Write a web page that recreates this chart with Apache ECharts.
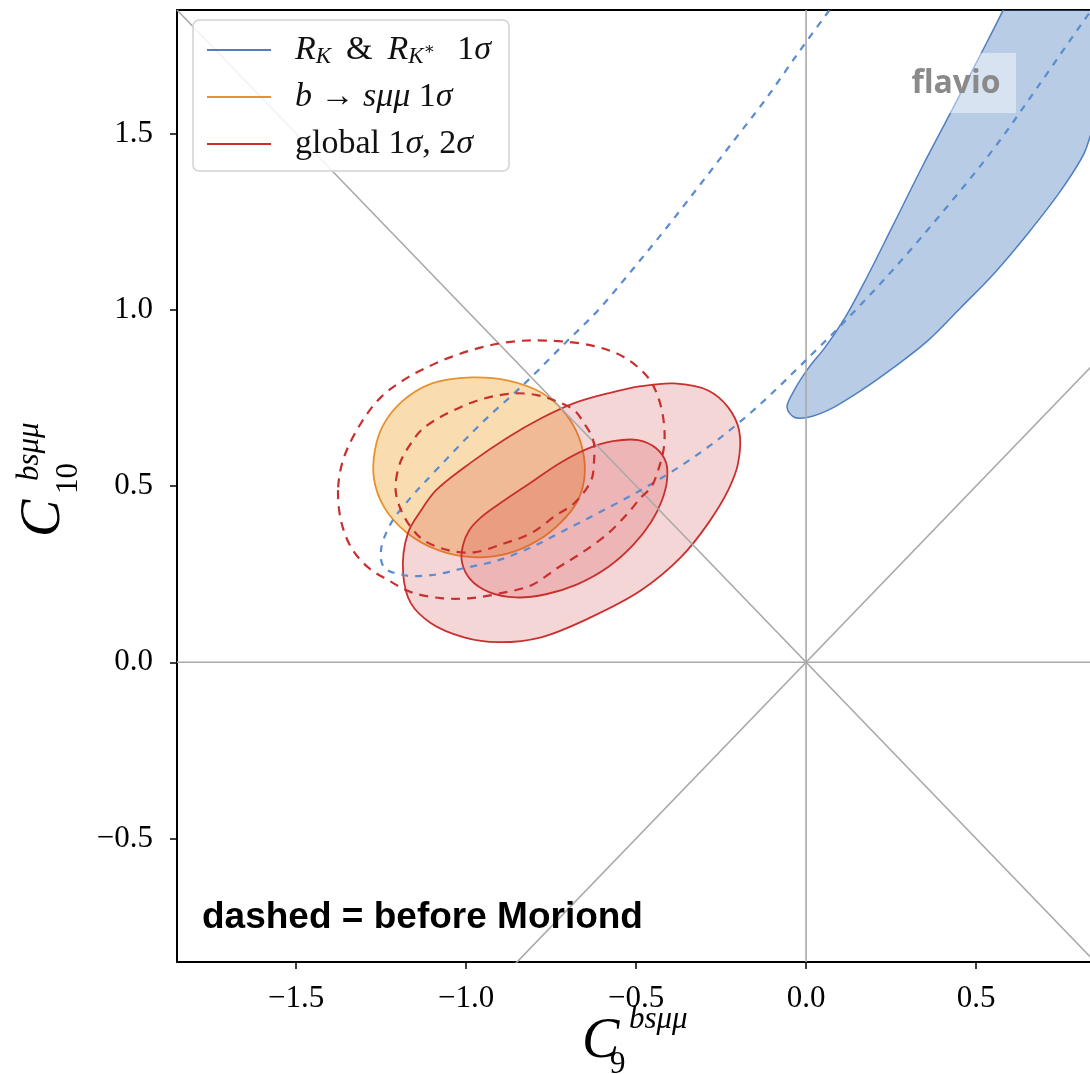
<!DOCTYPE html>
<html><head><meta charset="utf-8">
<script src="https://cdn.jsdelivr.net/npm/echarts@6/dist/echarts.min.js"></script>
<style>html,body{margin:0;padding:0;background:#fff}#c{width:1090px;height:1074px}</style>
</head><body><div id="c"></div>
<script>
// ---- axes ----
const xRange = [-1.85, 0.835];
const yRange = [-0.85, 1.85];
const xTicks = [-1.5, -1.0, -0.5, 0.0, 0.5];
const yTicks = [-0.5, 0.0, 0.5, 1.0, 1.5];
const seriesNames = ['R_K & R_K* 1σ', 'b → sμμ 1σ', 'global 1σ, 2σ'];

// ---- reference lines through origin ----
const lineH = [[-1.85, 0], [0.9, 0]];
const lineV = [[0, -0.85], [0, 1.85]];
const lineDiagDown = [[-1.85, 1.85], [0.9, -0.9]];
const lineDiagUp = [[-0.9, -0.9], [0.9, 0.9]];

// ---- contours (C9, C10) ----
const rkNew = [[0.591,1.877],[0.579,1.849],[0.509,1.716],[0.424,1.557],[0.341,1.404],[0.253,1.234],[0.179,1.092],[0.115,0.978],[0.056,0.893],[0.009,0.837],[-0.035,0.771],[-0.056,0.723],[-0.035,0.695],[0.006,0.695],[0.065,0.715],[0.162,0.771],[0.259,0.837],[0.359,0.913],[0.456,1.007],[0.553,1.103],[0.653,1.217],[0.75,1.339],[0.818,1.444],[0.838,1.5],[0.868,1.594],[0.897,1.877]];
const rkOld = [[0.068,1.849],[0.053,1.829],[-0.024,1.727],[-0.121,1.594],[-0.212,1.48],[-0.309,1.358],[-0.409,1.234],[-0.512,1.112],[-0.612,0.998],[-0.709,0.905],[-0.809,0.808],[-0.865,0.757],[-0.924,0.706],[-0.985,0.649],[-1.053,0.581],[-1.124,0.508],[-1.162,0.468],[-1.221,0.394],[-1.25,0.318],[-1.241,0.269],[-1.182,0.247],[-1.103,0.247],[-1.006,0.267],[-0.906,0.289],[-0.809,0.326],[-0.721,0.369],[-0.624,0.417],[-0.524,0.468],[-0.456,0.505],[-0.388,0.545],[-0.309,0.596],[-0.235,0.65],[-0.171,0.701],[-0.109,0.755],[-0.015,0.843],[0.112,0.965],[0.259,1.117],[0.406,1.282],[0.553,1.458],[0.682,1.633],[0.818,1.821],[0.844,1.855]];
const bsmmNew = [[-0.985,0.808],[-0.876,0.799],[-0.779,0.765],[-0.715,0.714],[-0.674,0.652],[-0.653,0.581],[-0.653,0.516],[-0.674,0.454],[-0.721,0.397],[-0.788,0.346],[-0.876,0.309],[-0.979,0.298],[-1.082,0.318],[-1.176,0.369],[-1.241,0.44],[-1.271,0.522],[-1.268,0.601],[-1.244,0.672],[-1.188,0.74],[-1.1,0.791]];
const global2New = [[-1.132,0.431],[-1.088,0.488],[-0.985,0.567],[-0.882,0.635],[-0.779,0.692],[-0.682,0.735],[-0.582,0.763],[-0.485,0.783],[-0.388,0.791],[-0.288,0.771],[-0.229,0.723],[-0.197,0.658],[-0.2,0.564],[-0.229,0.488],[-0.288,0.394],[-0.368,0.298],[-0.485,0.204],[-0.632,0.128],[-0.779,0.071],[-0.906,0.057],[-1.006,0.071],[-1.103,0.111],[-1.162,0.167],[-1.185,0.252],[-1.171,0.366]];
const global1New = [[-1.009,0.332],[-0.991,0.374],[-0.956,0.411],[-0.888,0.459],[-0.809,0.51],[-0.726,0.564],[-0.647,0.604],[-0.568,0.627],[-0.494,0.63],[-0.441,0.607],[-0.412,0.567],[-0.409,0.516],[-0.424,0.459],[-0.456,0.397],[-0.509,0.332],[-0.582,0.27],[-0.673,0.221],[-0.765,0.193],[-0.853,0.184],[-0.932,0.199],[-0.988,0.236],[-1.012,0.284]];
const global2Old = [[-1.376,0.496],[-1.359,0.581],[-1.309,0.678],[-1.25,0.752],[-1.171,0.808],[-1.082,0.851],[-0.985,0.885],[-0.897,0.905],[-0.8,0.913],[-0.632,0.899],[-0.535,0.865],[-0.465,0.808],[-0.435,0.752],[-0.418,0.678],[-0.418,0.61],[-0.435,0.545],[-0.456,0.496],[-0.485,0.468],[-0.524,0.423],[-0.582,0.366],[-0.662,0.309],[-0.729,0.269],[-0.809,0.218],[-0.897,0.196],[-0.985,0.182],[-1.074,0.182],[-1.162,0.199],[-1.229,0.233],[-1.288,0.269],[-1.338,0.326],[-1.368,0.403]];
const global1Old = [[-1.206,0.516],[-1.191,0.573],[-1.162,0.621],[-1.132,0.658],[-1.082,0.692],[-1.024,0.72],[-0.965,0.743],[-0.906,0.757],[-0.847,0.763],[-0.788,0.757],[-0.741,0.743],[-0.682,0.715],[-0.653,0.678],[-0.626,0.63],[-0.624,0.564],[-0.632,0.516],[-0.682,0.451],[-0.735,0.417],[-0.809,0.366],[-0.888,0.337],[-0.976,0.312],[-1.053,0.318],[-1.124,0.346],[-1.162,0.383],[-1.191,0.431],[-1.206,0.479]];

const BLUE = '#4f7fc0', BLUE_D = '#5a8ccf', ORANGE = '#e8912d', RED = '#c8302f';

// smooth path through the projected contour points (centripetal Catmull-Rom as cubic Beziers)
function smoothPath(P, closed) {
  const n = P.length;
  const get = function (i) { return closed ? P[(i + n) % n] : P[Math.max(0, Math.min(n - 1, i))]; };
  const dist = function (a, b) { return Math.pow(Math.hypot(b[0] - a[0], b[1] - a[1]), 0.5); };
  let d = 'M' + P[0][0].toFixed(2) + ',' + P[0][1].toFixed(2);
  const segs = closed ? n : n - 1;
  for (let i = 0; i < segs; i++) {
    const p0 = get(i - 1), p1 = get(i), p2 = get(i + 1), p3 = get(i + 2);
    const A1 = dist(p0, p1), A2 = dist(p1, p2) || 1e-6, A3 = dist(p2, p3);
    let c1, c2;
    if (A1 > 1e-6) {
      c1 = [0, 1].map(function (k) { return (A1 * A1 * p2[k] - A2 * A2 * p0[k] + (2 * A1 * A1 + 3 * A1 * A2 + A2 * A2) * p1[k]) / (3 * A1 * (A1 + A2)); });
    } else {
      c1 = [p1[0] + (p2[0] - p1[0]) / 3, p1[1] + (p2[1] - p1[1]) / 3];
    }
    if (A3 > 1e-6) {
      c2 = [0, 1].map(function (k) { return (A3 * A3 * p1[k] - A2 * A2 * p3[k] + (2 * A3 * A3 + 3 * A3 * A2 + A2 * A2) * p2[k]) / (3 * A3 * (A3 + A2)); });
    } else {
      c2 = [p2[0] - (p2[0] - p1[0]) / 3, p2[1] - (p2[1] - p1[1]) / 3];
    }
    d += 'C' + c1[0].toFixed(2) + ',' + c1[1].toFixed(2) + ' ' + c2[0].toFixed(2) + ',' + c2[1].toFixed(2) + ' ' + p2[0].toFixed(2) + ',' + p2[1].toFixed(2);
  }
  if (closed) d += 'Z';
  return d;
}

function contour(name, pts, closed, st, z) {
  return {
    type: 'custom', name: name, coordinateSystem: 'cartesian2d', clip: true, silent: true, z: z,
    itemStyle: { color: st.legend },
    data: pts, encode: { x: 0, y: 1 },
    renderItem: function (params, api) {
      if (params.dataIndex !== 0) return null;
      const points = pts.map(function (p) { return api.coord(p); });
      return {
        type: 'path',
        shape: { pathData: smoothPath(points, closed) },
        style: { fill: st.fill || 'none', stroke: st.stroke, lineWidth: st.width || 1.6, lineDash: st.dash || null }
      };
    }
  };
}
function refLine(pts) {
  return { type: 'line', data: pts, symbol: 'none', silent: true, z: 3, clip: true,
    lineStyle: { color: '#a9a9a9', width: 1.6 }, animation: false };
}

const legendRich = {};
legendRich[seriesNames[0]] = '{i|R}{s|K}{sp| }&{sp| }{i|R}{s|K}{st|∗}{gap| }1{i|σ}';
legendRich[seriesNames[1]] = '{i|b} {ar|→} {i|sμμ} 1{i|σ}';
legendRich[seriesNames[2]] = 'global 1{i|σ}, 2{i|σ}';

const SERIF = '"Liberation Serif", "DejaVu Serif", serif';
const fmt = function (v) { return (v < 0 ? '\u2212' : '') + Math.abs(v).toFixed(1); };

const chart = echarts.init(document.getElementById('c'), null, { renderer: 'canvas' });
chart.setOption({
  animation: false,
  backgroundColor: '#ffffff',
  grid: { left: 177, right: 0, top: 10, bottom: 112 },
  xAxis: [{
    type: 'value', min: xRange[0], max: xRange[1], position: 'bottom',
    axisLine: { show: true, onZero: false, lineStyle: { color: '#000', width: 2 } },
    axisTick: { show: true, customValues: xTicks, length: 7, lineStyle: { color: '#000', width: 1.5 } },
    axisLabel: { customValues: xTicks, formatter: fmt, margin: 21, color: '#000', fontFamily: SERIF, fontSize: 31 },
    splitLine: { show: false }
  }, {
    type: 'value', min: xRange[0], max: xRange[1], position: 'top',
    axisLine: { show: true, onZero: false, lineStyle: { color: '#000', width: 2 } },
    axisTick: { show: false }, axisLabel: { show: false }, splitLine: { show: false }
  }],
  yAxis: {
    type: 'value', min: yRange[0], max: yRange[1],
    axisLine: { show: true, onZero: false, lineStyle: { color: '#000', width: 2 } },
    axisTick: { show: true, customValues: yTicks, length: 7, lineStyle: { color: '#000', width: 1.5 } },
    axisLabel: { customValues: yTicks, formatter: fmt, margin: 24, color: '#000', fontFamily: SERIF, fontSize: 31 },
    splitLine: { show: false }
  },
  legend: {
    data: seriesNames, orient: 'vertical', left: 193, top: 20, icon: 'rect',
    itemWidth: 64, itemHeight: 2, itemGap: 11, padding: [12, 18, 9, 14],
    backgroundColor: 'rgba(255,255,255,0.85)', borderColor: '#d2d2d2', borderWidth: 1.5, borderRadius: 6,
    selectedMode: false, z: 20,
    formatter: function (n) { return legendRich[n]; },
    textStyle: {
      fontFamily: SERIF, fontSize: 34, lineHeight: 36, color: '#111', padding: [0, 0, 0, 19],
      rich: {
        i: { fontFamily: SERIF, fontStyle: 'italic', fontSize: 34, lineHeight: 36, color: '#111' },
        s: { fontFamily: SERIF, fontStyle: 'italic', fontSize: 23, lineHeight: 22, verticalAlign: 'bottom', color: '#111' },
        st: { fontFamily: SERIF, fontSize: 17, lineHeight: 36, verticalAlign: 'middle', color: '#111' },
        ar: { fontFamily: SERIF, fontSize: 34, lineHeight: 36, color: '#111' },
        sp: { fontSize: 34, width: 15 },
        gap: { fontSize: 34, width: 22 }
      }
    }
  },
  series: [
    refLine(lineH), refLine(lineV), refLine(lineDiagDown), refLine(lineDiagUp),
    contour(seriesNames[0], rkNew, true, { legend: BLUE, fill: 'rgba(79,127,192,0.4)', stroke: BLUE, width: 1.5 }, 2),
    contour(seriesNames[1], bsmmNew, true, { legend: ORANGE, fill: 'rgba(242,168,60,0.4)', stroke: ORANGE, width: 1.8 }, 2),
    contour(seriesNames[2], global2New, true, { legend: RED, fill: 'rgba(205,50,50,0.2)', stroke: RED, width: 1.8 }, 2),
    contour(seriesNames[2], global1New, true, { legend: RED, fill: 'rgba(205,50,50,0.2)', stroke: RED, width: 1.8 }, 2),
    contour(seriesNames[0], rkOld, false, { legend: BLUE, stroke: BLUE_D, width: 2.2, dash: [7, 7] }, 5),
    contour(seriesNames[2], global2Old, true, { legend: RED, stroke: RED, width: 2.2, dash: [9, 7] }, 5),
    contour(seriesNames[2], global1Old, true, { legend: RED, stroke: RED, width: 2.2, dash: [9, 7] }, 5)
  ],
  graphic: [
    { type: 'rect', z: 50, shape: { x: 893, y: 53, width: 123, height: 60 }, style: { fill: 'rgba(255,255,255,0.45)' } },
    { type: 'text', z: 51, style: { x: 956, y: 84, text: 'flavio', textAlign: 'center', textVerticalAlign: 'middle', font: 'bold 32px "Open Sans", "Liberation Sans", sans-serif', fill: '#8a8a8a' } },
    { type: 'text', z: 51, style: { x: 202, y: 918, text: 'dashed = before Moriond', textAlign: 'left', textVerticalAlign: 'middle', font: 'bold 37px "Liberation Sans", Arial, sans-serif', fill: '#000' } },
    // x-axis title C9^{bsμμ}
    { type: 'text', z: 51, style: { x: 582, y: 1042, text: 'C', textVerticalAlign: 'middle', font: 'italic 56px ' + SERIF, fill: '#000' } },
    { type: 'text', z: 51, style: { x: 629, y: 1020, text: 'bsμμ', textVerticalAlign: 'middle', font: 'italic 31px ' + SERIF, fill: '#000' } },
    { type: 'text', z: 51, style: { x: 610, y: 1065, text: '9', textVerticalAlign: 'middle', font: '31px ' + SERIF, fill: '#000' } },
    // y-axis title C10^{bsμμ}
    { type: 'group', x: 44, y: 537, rotation: Math.PI / 2, z: 51, children: [
      { type: 'text', style: { x: 0, y: 0, text: 'C', textVerticalAlign: 'middle', font: 'italic 56px ' + SERIF, fill: '#000' } },
      { type: 'text', style: { x: 56, y: -14, text: 'bsμμ', textVerticalAlign: 'middle', font: 'italic 31px ' + SERIF, fill: '#000' } },
      { type: 'text', style: { x: 43, y: 25, text: '10', textVerticalAlign: 'middle', font: '31px ' + SERIF, fill: '#000' } }
    ] }
  ]
});
</script></body></html>
